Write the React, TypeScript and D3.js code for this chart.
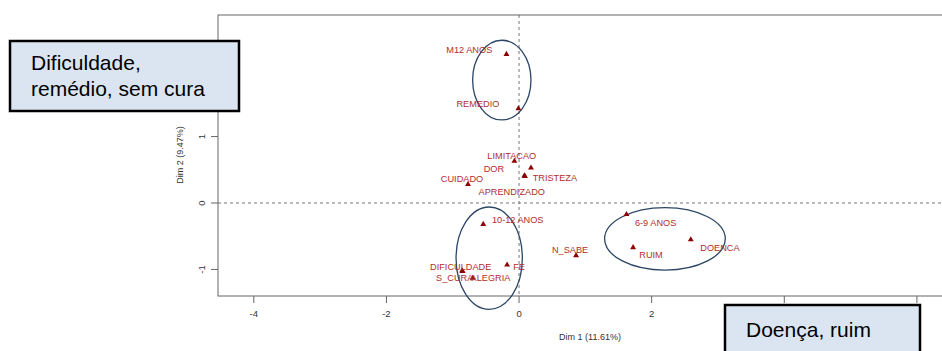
import React from 'react';
import * as d3 from 'd3';

// category coordinates (Dim 1, Dim 2)
const categories = ['M12 ANOS', 'REMEDIO', 'LIMITACAO', 'DOR', 'TRISTEZA', 'APRENDIZADO', 'CUIDADO',
  '10-12 ANOS', 'N_SABE', 'FE', 'DIFICULDADE', 'S_CURA', 'ALEGRIA', '6-9 ANOS', 'RUIM', 'DOENCA'];
const dim1 = [-0.19, -0.01, -0.07, 0.18, 0.09, 0.08, -0.77, -0.54, 0.86, -0.18, -0.86, -0.85, -0.70, 1.62, 1.72, 2.59];
const dim2 = [2.24, 1.42, 0.63, 0.53, 0.40, 0.41, 0.28, -0.32, -0.79, -0.93, -1.02, -1.03, -1.13, -0.17, -0.67, -0.55];

// where each label sits (data units, text centre)
const labelX = [-0.75, -0.62, -0.11, -0.38, 0.54, -0.11, -0.86, -0.02, 0.77, 0.0, -0.88, -0.97, -0.43, 2.06, 1.99, 3.03];
const labelY = [2.30, 1.49, 0.71, 0.51, 0.38, 0.17, 0.36, -0.26, -0.71, -0.96, -0.96, -1.13, -1.13, -0.30, -0.78, -0.67];

const xTicks = [-4, -2, 0, 2, 4, 6];
const yTicks = [-1, 0, 1];

// group ellipses: centre x, centre y, radius x, radius y
const groups = [
  { cx: -0.26, cy: 1.85, rx: 0.44, ry: 0.60 },
  { cx: -0.45, cy: -0.83, rx: 0.50, ry: 0.77 },
  { cx: 2.20, cy: -0.54, rx: 0.91, ry: 0.47 },
];

const W = 942;
const H = 351;
const font = '"Liberation Sans", Arial, sans-serif';

export default function App() {
  const x = d3.scaleLinear().domain([-4.54, 6.68]).range([218, 962]);
  const y = d3.scaleLinear().domain([-1.4, 2.83]).range([296, 15]);
  const sx = (v: number) => x(v) - x(0);
  const sy = (v: number) => y(0) - y(v);
  const tri = d3.symbol().type(d3.symbolTriangle).size(15);

  return (
    <svg width={W} height={H} style={{ position: 'absolute', left: 0, top: 0, background: '#fff' }} fontFamily={font}>
      {/* zero lines */}
      <line x1={x(0)} x2={x(0)} y1={y(2.83)} y2={y(-1.4)} stroke="#777" strokeDasharray="3,3" />
      <line x1={x(-4.54)} x2={x(6.68)} y1={y(0)} y2={y(0)} stroke="#777" strokeDasharray="3,3" />

      {/* frame */}
      <rect x={x(-4.54)} y={y(2.83)} width={x(6.68) - x(-4.54)} height={y(-1.4) - y(2.83)} fill="none" stroke="#666" />

      {/* x axis */}
      {xTicks.map(t => (
        <g key={t}>
          <line x1={x(t)} x2={x(t)} y1={296} y2={303} stroke="#666" />
          <text x={x(t)} y={317} textAnchor="middle" fontSize={9.5} fill="#333">{t}</text>
        </g>
      ))}
      <text x={590} y={340} textAnchor="middle" fontSize={9} fill="#333">Dim 1 (11.61%)</text>

      {/* y axis */}
      {yTicks.map(t => (
        <g key={t}>
          <line x1={211} x2={218} y1={y(t)} y2={y(t)} stroke="#666" />
          <text transform={`translate(205,${y(t)}) rotate(-90)`} textAnchor="middle" fontSize={9.5} fill="#333">{t}</text>
        </g>
      ))}
      <text transform={`translate(183,155) rotate(-90)`} textAnchor="middle" fontSize={9} fill="#333">Dim 2 (9.47%)</text>

      {/* ellipses */}
      {groups.map((g, i) => (
        <ellipse key={i} cx={x(g.cx)} cy={y(g.cy)} rx={sx(g.rx)} ry={sy(g.ry)} fill="none" stroke="#2c4766" strokeWidth={1.3} />
      ))}

      {/* points */}
      {categories.map((c, i) => (
        <path key={c} d={tri() || ''} transform={`translate(${x(dim1[i])},${y(dim2[i])})`} fill="#8b0000" />
      ))}
      {categories.map((c, i) => (
        <text key={c} x={x(labelX[i])} y={y(labelY[i])} dy="0.35em" textAnchor="middle" fontSize={9.2} fill="#b22d2d">{c}</text>
      ))}

      {/* annotation boxes */}
      <rect x={10} y={41} width={229} height={70} fill="#dbe5f1" stroke="#000" strokeWidth={2.5} />
      <text x={31} y={70} fontSize={21} fill="#000">Dificuldade,</text>
      <text x={31} y={96} fontSize={21} fill="#000">remédio, sem cura</text>

      <rect x={725} y={305} width={195} height={60} fill="#dbe5f1" stroke="#000" strokeWidth={2.5} />
      <text x={746} y={337} fontSize={21} fill="#000">Doença, ruim</text>
    </svg>
  );
}
